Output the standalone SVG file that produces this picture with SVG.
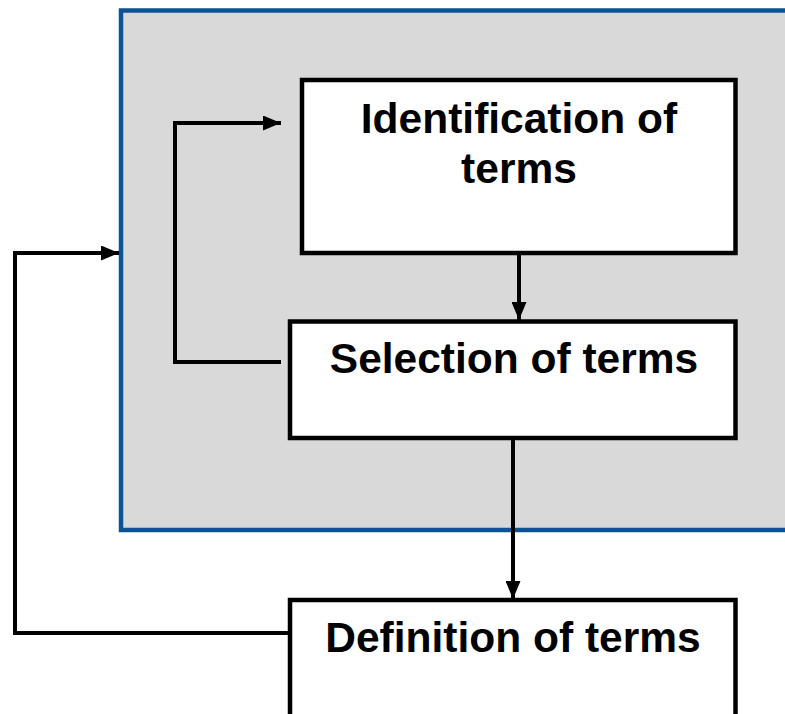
<svg xmlns="http://www.w3.org/2000/svg" width="785" height="714" viewBox="0 0 785 714">
  <style>
    .box { fill: #ffffff; stroke: #000000; stroke-width: 4.5; }
    .lbl { font-family: "Liberation Sans", Arial, sans-serif; font-weight: bold; font-size: 42.5px; fill: #000000; text-anchor: middle; }
    .conn { fill: none; stroke: #000000; stroke-width: 4; }
  </style>
  <defs>
    <marker id="arrow" viewBox="0 0 18 15" refX="18" refY="7.5" markerWidth="18" markerHeight="15" markerUnits="userSpaceOnUse" orient="auto">
      <path d="M0,0 L18,7.5 L0,15 Z" fill="#000000"/>
    </marker>
  </defs>
  <rect width="785" height="714" fill="#ffffff"/>
  <g id="panel">
    <rect x="121" y="10.5" width="700" height="519.5" fill="#d9d9d9" stroke="#0b5394" stroke-width="4.5"/>
  </g>
  <g id="identification">
    <rect class="box" x="302" y="80" width="433.5" height="173"/>
    <text class="lbl" x="519" y="133">Identification of</text>
    <text class="lbl" x="519" y="183">terms</text>
  </g>
  <g id="selection">
    <rect class="box" x="290" y="321.5" width="445.5" height="116.5"/>
    <text class="lbl" x="514" y="373">Selection of terms</text>
  </g>
  <g id="definition">
    <rect class="box" x="290" y="600" width="445.5" height="130"/>
    <text class="lbl" x="513" y="652">Definition of terms</text>
  </g>
  <g id="connectors">
    <line class="conn" x1="519" y1="255" x2="519" y2="320" marker-end="url(#arrow)"/>
    <line class="conn" x1="513" y1="440" x2="513" y2="599" marker-end="url(#arrow)"/>
    <polyline class="conn" points="281,362 175,362 175,123 281,123" marker-end="url(#arrow)"/>
    <polyline class="conn" points="288,633 15,633 15,253 119,253" marker-end="url(#arrow)"/>
  </g>
</svg>
